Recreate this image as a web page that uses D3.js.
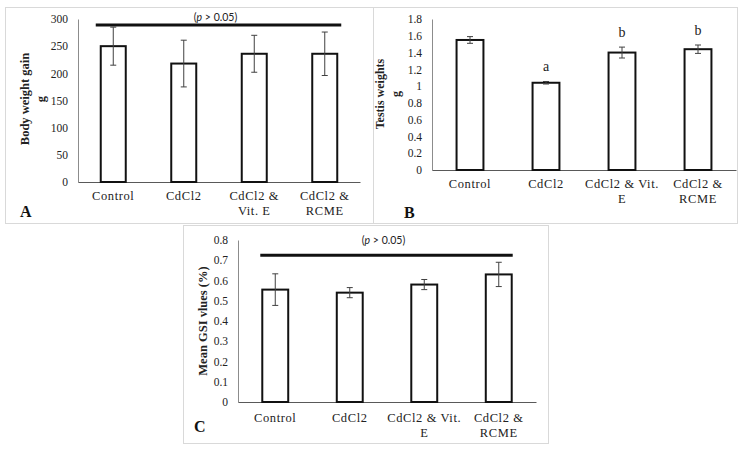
<!DOCTYPE html>
<html><head><meta charset="utf-8">
<script src="https://cdn.jsdelivr.net/npm/d3@7"></script>
<style>body{margin:0;background:#fff}svg{display:block}</style>
</head><body>
<svg id="c" width="744" height="453"></svg>
<script>
// ---- data ----
const categories = ["Control", "CdCl2", "CdCl2 & Vit. E", "CdCl2 & RCME"];
const labelsA = [["Control"], ["CdCl2"], ["CdCl2 &", "Vit. E"], ["CdCl2 &", "RCME"]];
const labelsBC = [["Control"], ["CdCl2"], ["CdCl2 & Vit.", "E"], ["CdCl2 &", "RCME"]];
const bodyWeightGain = [250, 218, 236, 236];
const bodyWeightErr = [35, 43, 34, 40];
const testisWeights = [1.55, 1.04, 1.40, 1.44];
const testisErr = [0.04, 0.015, 0.065, 0.05];
const testisLetters = ["", "a", "b", "b"];
const gsiValues = [0.555, 0.54, 0.58, 0.63];
const gsiErr = [0.078, 0.025, 0.025, 0.06];
const ticksA = [0, 50, 100, 150, 200, 250, 300];
const ticksB = [0, 0.2, 0.4, 0.6, 0.8, 1, 1.2, 1.4, 1.6, 1.8];
const ticksC = [0, 0.1, 0.2, 0.3, 0.4, 0.5, 0.6, 0.7, 0.8];
const sigA = 289, sigC = 0.725;

const svg = d3.select("#c");
svg.append("rect").attr("width", 744).attr("height", 453).attr("fill", "#fff");

const serif = "'Liberation Serif','Times New Roman',serif";

function panel(o) {
  const g = svg.append("g");
  // frame
  g.append("rect").attr("x", o.box[0] + 0.5).attr("y", o.box[1] + 0.5)
    .attr("width", o.box[2]).attr("height", o.box[3])
    .attr("fill", "none").attr("stroke", "#d9d9d9").attr("stroke-width", 1);

  const x = d3.scaleBand().domain(categories).range([o.x0, o.x1])
    .paddingInner(o.pad).paddingOuter(o.pad / 2);
  const y = d3.scaleLinear().domain([0, o.max]).range([o.y0, o.y1]);

  // y axis
  const ya = g.append("g").attr("transform", `translate(${o.x0},0)`)
    .call(d3.axisLeft(y).tickValues(o.ticks).tickSize(0).tickPadding(10)
      .tickFormat(d => String(+d.toFixed(1))));
  ya.select(".domain").attr("stroke", "#8c8c8c");
  ya.selectAll("text").attr("font-family", serif).attr("font-size", 11.5).attr("fill", "#222");

  // x axis baseline
  const xa = g.append("g").attr("transform", `translate(0,${o.y0})`)
    .call(d3.axisBottom(x).tickSize(0).tickFormat(""));
  xa.select(".domain").attr("stroke", "#595959");

  // bars
  g.selectAll("rect.bar").data(o.values).join("rect").attr("class", "bar")
    .attr("x", (d, i) => x(categories[i]) + 1)
    .attr("y", d => y(d))
    .attr("width", x.bandwidth() - 2)
    .attr("height", d => o.y0 - y(d))
    .attr("fill", "#fff").attr("stroke", "#111").attr("stroke-width", 2);

  // error bars
  const eg = g.selectAll("g.err").data(o.values).join("g").attr("class", "err")
    .attr("stroke", "#404040").attr("stroke-width", 1);
  eg.each(function(d, i) {
    const cx = x(categories[i]) + x.bandwidth() / 2;
    const e = o.errs[i];
    const s = d3.select(this);
    s.append("line").attr("x1", cx).attr("x2", cx).attr("y1", y(d + e)).attr("y2", y(d - e));
    s.append("line").attr("x1", cx - 3).attr("x2", cx + 3).attr("y1", y(d + e)).attr("y2", y(d + e));
    s.append("line").attr("x1", cx - 3).attr("x2", cx + 3).attr("y1", y(d - e)).attr("y2", y(d - e));
  });

  // x labels
  o.labels.forEach((lines, i) => {
    const cx = x(categories[i]) + x.bandwidth() / 2;
    const t = g.append("text").attr("text-anchor", "middle")
      .attr("font-family", serif).attr("font-size", 12.5).attr("fill", "#222")
      .attr("letter-spacing", 0.6);
    lines.forEach((l, k) => t.append("tspan").attr("x", cx).attr("y", o.y0 + o.lab0 + k * 15).text(l));
  });

  // y title
  o.title.forEach((l, k) => {
    g.append("text").attr("transform", `translate(${o.tx + k * 16},${o.ty}) rotate(-90)`)
      .attr("text-anchor", "middle").attr("dominant-baseline", "middle")
      .attr("font-family", serif).attr("font-weight", "bold").attr("font-size", o.tfs)
      .attr("fill", "#222").text(l);
  });

  // panel letter
  g.append("text").attr("x", o.letter[0]).attr("y", o.letter[1])
    .attr("font-family", serif).attr("font-weight", "bold").attr("font-size", 16)
    .attr("fill", "#111").text(o.letter[2]);

  return {g, x, y};
}

// Panel A
const A = panel({box: [5, 7, 368, 216], x0: 78, x1: 360, y0: 182, y1: 19, max: 300, pad: 0.617,
  ticks: ticksA, values: bodyWeightGain, errs: bodyWeightErr, labels: labelsA, lab0: 18,
  title: ["Body weight gain", "g"], tx: 26, ty: 99, tfs: 12.5, letter: [20, 217, "A"]});
// Panel B
const B = panel({box: [373, 7, 364, 216], x0: 432, x1: 736, y0: 170, y1: 19, max: 1.8, pad: 0.62,
  ticks: ticksB, values: testisWeights, errs: testisErr, labels: labelsBC, lab0: 18,
  title: ["Testis weights", "g"], tx: 381, ty: 94, tfs: 12, letter: [404, 218, "B"]});
// Panel C
const C = panel({box: [183, 225, 365, 218], x0: 238, x1: 536, y0: 402, y1: 240, max: 0.8, pad: 0.625,
  ticks: ticksC, values: gsiValues, errs: gsiErr, labels: labelsBC, lab0: 20,
  title: ["Mean GSI vlues (%)"], tx: 204, ty: 321, tfs: 12.5, letter: [194, 432, "C"]});

// significance letters for B
testisLetters.forEach((l, i) => {
  if (!l) return;
  const cx = B.x(categories[i]) + B.x.bandwidth() / 2;
  B.g.append("text").attr("x", cx).attr("y", B.y(testisWeights[i] + testisErr[i]) - 10)
    .attr("text-anchor", "middle").attr("font-family", serif).attr("font-size", 14)
    .attr("fill", "#222").text(l);
});

// non-significance lines
function sigLine(P, val, padL, padR, ty) {
  const xa = P.x(categories[0]) - padL;
  const xb = P.x(categories[3]) + P.x.bandwidth() + padR;
  P.g.append("line").attr("x1", xa).attr("x2", xb).attr("y1", P.y(val)).attr("y2", P.y(val))
    .attr("stroke", "#111").attr("stroke-width", 3);
  const t = P.g.append("text").attr("x", (xa + xb) / 2 - 3).attr("y", P.y(val) - ty)
    .attr("text-anchor", "middle").attr("font-family", "Lato,'Open Sans',sans-serif")
    .attr("font-size", 10.5).attr("fill", "#222");
  t.append("tspan").text("(");
  t.append("tspan").attr("font-style", "italic").text("p");
  t.append("tspan").text(" > 0.05)");
}
sigLine(A, sigA, 4, 3, 4);
sigLine(C, sigC, 1, 0, 11);
</script>
</body></html>
